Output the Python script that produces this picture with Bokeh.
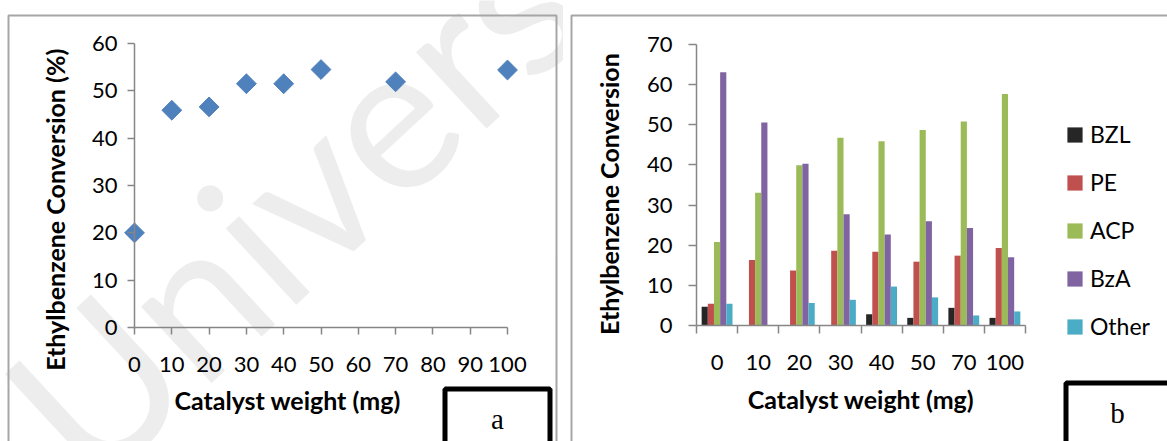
from bokeh.plotting import figure
from bokeh.layouts import row
from bokeh.models import (FixedTicker, Label, Legend, LegendItem, ColumnDataSource,
                          Range1d, BoxAnnotation)
from bokeh.embed import file_html
from bokeh.resources import INLINE

# ---------------- data ----------------
weights_a = [0, 10, 20, 30, 40, 50, 70, 100]
conversion_a = [20.0, 45.9, 46.6, 51.5, 51.5, 54.5, 51.9, 54.4]
x_ticks_a = [0, 10, 20, 30, 40, 50, 60, 70, 80, 90, 100]
y_ticks_a = [0, 10, 20, 30, 40, 50, 60]

categories_b = ["0", "10", "20", "30", "40", "50", "70", "100"]
series_names = ["BZL", "PE", "ACP", "BzA", "Other"]
bzl = [4.7, 0, 0, 0, 2.8, 1.9, 4.4, 1.9]
pe = [5.4, 16.3, 13.7, 18.6, 18.4, 15.9, 17.4, 19.3]
acp = [20.8, 33.1, 39.9, 46.8, 45.9, 48.7, 50.8, 57.7]
bza = [63.1, 50.6, 40.3, 27.7, 22.7, 26.0, 24.3, 17.0]
other = [5.4, 0, 5.6, 6.4, 9.7, 7.0, 2.5, 3.5]
series_colors = ["#262626", "#C0504D", "#9BBB59", "#8064A2", "#4BACC6"]
y_ticks_b = [0, 10, 20, 30, 40, 50, 60, 70]

FONT = "Lato"
AXIS_COLOR = "#868686"
PANEL_COLOR = "#a6a6a6"
H = 441
W1, W2 = 563, 604
NB = "\u00a0"  # non-breaking space, used to nudge axis titles off-centre like the original


def frame_range(px0, px1, v0, v1, total):
    """Range for a frame that fills the canvas, so that value v0 sits at pixel px0 and v1 at px1."""
    k = (px1 - px0) / (v1 - v0)
    return Range1d(v0 - px0 / k, v0 + (total - px0) / k)


def style_axis(ax):
    ax.axis_line_color = AXIS_COLOR
    ax.axis_line_width = 1.5
    ax.major_tick_line_color = AXIS_COLOR
    ax.major_tick_line_width = 1.5
    ax.minor_tick_line_color = None
    ax.major_tick_in = 0
    ax.major_label_text_font = FONT
    ax.major_label_text_font_size = "22px"
    ax.major_label_text_color = "#000000"
    ax.axis_label_text_font = FONT
    ax.axis_label_text_font_style = "bold"
    ax.axis_label_text_font_size = "25px"
    ax.axis_label_text_color = "#000000"


def canvas_box(**kw):
    return BoxAnnotation(left_units="canvas", right_units="canvas",
                         top_units="canvas", bottom_units="canvas", **kw)


def canvas_label(**kw):
    return Label(x_units="canvas", y_units="canvas", **kw)


def base_figure(width, x_range, y_range):
    p = figure(width=width, height=H, x_range=x_range, y_range=y_range,
               output_backend="svg", toolbar_location=None, min_border=0)
    p.xgrid.visible = False
    p.ygrid.visible = False
    p.outline_line_color = None
    p.background_fill_color = "white"
    p.border_fill_color = "white"
    return p


# ---------------- panel a ----------------
p1 = base_figure(W1, frame_range(134, 507, 0, 100, W1), frame_range(H - 327, H - 43, 0, 60, H))

p1.add_layout(canvas_label(x=122, y=525, text="Universiti", angle=0.747,
                           text_font="Lato", text_font_size="205px",
                           text_color="#ededed", level="underlay"))
p1.add_layout(canvas_box(left=8, right=556, top=15, bottom=470, fill_alpha=0,
                         line_color=PANEL_COLOR, line_alpha=1, line_width=2, level="underlay"))

p1.scatter(weights_a, conversion_a, marker="square", size=14, angle=0.7853982,
           fill_color="#4F81BD", line_color="#4F81BD")

p1.xaxis.ticker = FixedTicker(ticks=x_ticks_a)
p1.xaxis.fixed_location = 0
p1.xaxis.bounds = (x_ticks_a[0], x_ticks_a[-1])
p1.yaxis.ticker = FixedTicker(ticks=y_ticks_a)
p1.yaxis.fixed_location = 0
p1.yaxis.bounds = (y_ticks_a[0], y_ticks_a[-1])
for ax in (p1.xaxis[0], p1.yaxis[0]):
    style_axis(ax)
p1.xaxis.major_tick_out = 7
p1.yaxis.major_tick_out = 7
p1.xaxis.major_label_standoff = 22
p1.yaxis.major_label_standoff = 10
p1.xaxis.axis_label = "Catalyst weight (mg)" + NB * 11
p1.yaxis.axis_label = "Ethylbenzene Conversion (%)" + NB * 8
p1.xaxis.axis_label_standoff = 10
p1.yaxis.axis_label_standoff = 19

p1.add_layout(canvas_box(left=444.5, right=549.5, top=388.5, bottom=470,
                         fill_color="white", fill_alpha=1,
                         line_color="black", line_alpha=1, line_width=5))
p1.add_layout(canvas_label(x=497, y=418, text="a", text_align="center", text_baseline="middle",
                           text_font="Liberation Serif", text_font_size="29px", text_color="black"))

# ---------------- panel b ----------------
n_cat = len(categories_b)
p2 = base_figure(W2, frame_range(133, 462, 0, n_cat, W2), frame_range(H - 325, H - 44, 0, 70, H))
p2.add_layout(canvas_box(left=8, right=700, top=15, bottom=470, fill_alpha=0,
                         line_color=PANEL_COLOR, line_alpha=1, line_width=2, level="underlay"))

centers = [i + 0.5 for i in range(n_cat)]
bar_w = 0.15
series_values = [bzl, pe, acp, bza, other]
items = []
for k, (name, vals, col) in enumerate(zip(series_names, series_values, series_colors)):
    xs = [c + (k - 2) * bar_w for c in centers]
    src = ColumnDataSource(dict(x=xs, top=vals))
    r = p2.vbar(x="x", top="top", width=bar_w, bottom=0, source=src,
                fill_color=col, line_color=None)
    items.append(LegendItem(label=name, renderers=[r]))

legend = Legend(items=items, location=(502, 100), orientation="vertical",
                glyph_width=19, glyph_height=19, label_height=30, spacing=18,
                label_standoff=6, padding=0, margin=0,
                label_text_font=FONT, label_text_font_size="23px", label_text_color="#000000",
                border_line_color=None, background_fill_alpha=0)
p2.add_layout(legend)

p2.xaxis.ticker = FixedTicker(ticks=centers, minor_ticks=list(range(n_cat + 1)))
p2.xaxis.major_label_overrides = {c: lab for c, lab in zip(centers, categories_b)}
p2.xaxis.fixed_location = 0
p2.xaxis.bounds = (0, n_cat)
p2.yaxis.ticker = FixedTicker(ticks=y_ticks_b)
p2.yaxis.fixed_location = 0
p2.yaxis.bounds = (y_ticks_b[0], y_ticks_b[-1])
for ax in (p2.xaxis[0], p2.yaxis[0]):
    style_axis(ax)
p2.xaxis.major_tick_out = 0
p2.xaxis.major_tick_line_color = None
p2.xaxis.minor_tick_line_color = AXIS_COLOR
p2.xaxis.minor_tick_line_width = 1.5
p2.xaxis.minor_tick_in = 0
p2.xaxis.minor_tick_out = 8
p2.yaxis.major_tick_out = 8
p2.xaxis.major_label_standoff = 21
p2.yaxis.major_label_standoff = 16
p2.xaxis.axis_label = "Catalyst weight (mg)"
p2.yaxis.axis_label = "Ethylbenzene Conversion" + NB * 3
p2.xaxis.axis_label_standoff = 11
p2.yaxis.axis_label_standoff = 20

p2.add_layout(canvas_box(left=502.5, right=700, top=382.5, bottom=470,
                         fill_color="white", fill_alpha=1,
                         line_color="black", line_alpha=1, line_width=5))
p2.add_layout(canvas_label(x=554, y=412, text="b", text_align="center", text_baseline="middle",
                           text_font="Liberation Serif", text_font_size="29px", text_color="black"))

layout = row(p1, p2)
open("out.html", "w").write(file_html(layout, INLINE))
